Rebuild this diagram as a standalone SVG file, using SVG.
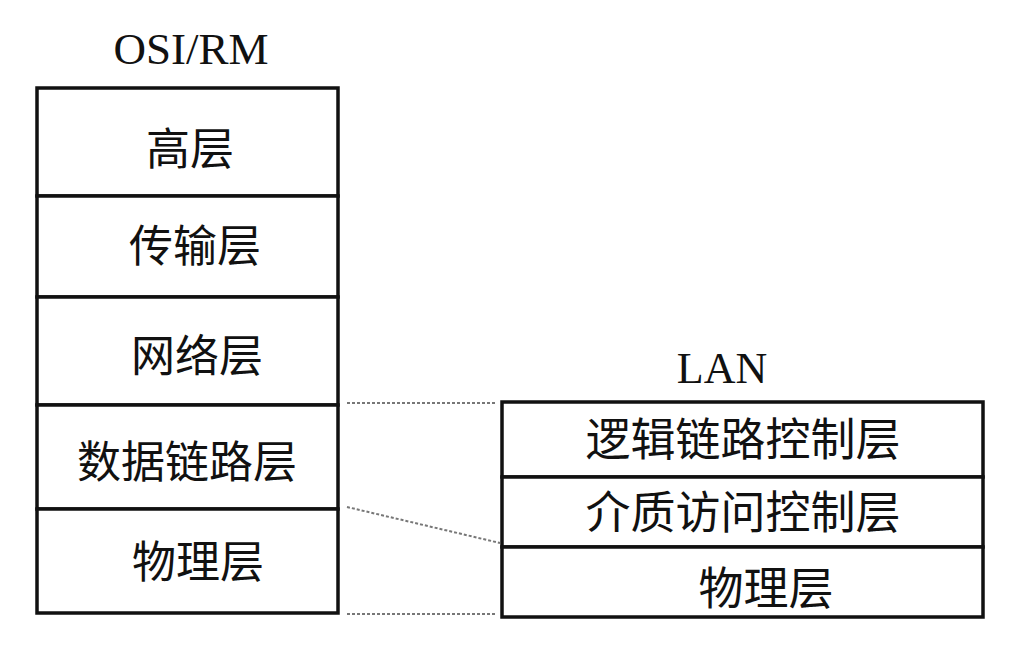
<svg xmlns="http://www.w3.org/2000/svg" width="1024" height="650" viewBox="0 0 1024 650">
<style>
.box{fill:#fff;stroke:#111;stroke-width:3.5}
.t{font-family:"Liberation Serif","Noto Sans CJK SC",serif;font-size:44px;fill:#111;text-anchor:middle;dominant-baseline:central}
.r{font-size:45px}
.h{font-family:"Liberation Serif",serif;font-size:45px;fill:#111;text-anchor:middle}
.c{stroke:#777;stroke-width:2;stroke-dasharray:3 2;fill:none}
</style>
<rect width="1024" height="650" fill="#fff"/>
<text class="h" x="191" y="64">OSI/RM</text>
<text class="h" x="722" y="383" style="font-size:44px">LAN</text>
<g id="osi-high"><rect class="box" x="37" y="88" width="301" height="108"/><text class="t" x="190" y="150">高层</text></g>
<g id="osi-transport"><rect class="box" x="37" y="196" width="301" height="101"/><text class="t" x="195" y="247">传输层</text></g>
<g id="osi-network"><rect class="box" x="37" y="297" width="301" height="108"/><text class="t" x="197" y="357">网络层</text></g>
<g id="osi-datalink"><rect class="box" x="37" y="405" width="301" height="104"/><text class="t" x="187" y="463">数据链路层</text></g>
<g id="osi-physical"><rect class="box" x="37" y="509" width="301" height="104"/><text class="t" x="198" y="563">物理层</text></g>
<g id="lan-llc"><rect class="box" x="502" y="402" width="481" height="75"/><text class="t r" x="743" y="441">逻辑链路控制层</text></g>
<g id="lan-mac"><rect class="box" x="502" y="477" width="481" height="70"/><text class="t r" x="743" y="514">介质访问控制层</text></g>
<g id="lan-physical"><rect class="box" x="502" y="547" width="481" height="70"/><text class="t r" x="766" y="590">物理层</text></g>
<g id="connectors">
<line class="c" x1="347" y1="403" x2="496" y2="403"/>
<line class="c" x1="347" y1="507" x2="500" y2="543"/>
<line class="c" x1="347" y1="614" x2="496" y2="614"/>
</g>
</svg>
